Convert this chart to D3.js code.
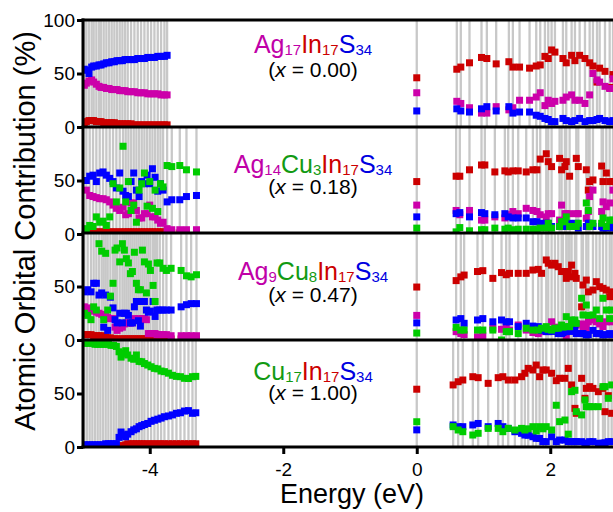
<!DOCTYPE html>
<html>
<head>
<meta charset="utf-8">
<script src="https://d3js.org/d3.v7.min.js"></script>
<style>
  body { margin: 0; background: #fff; }
  svg { font-family: "Liberation Sans", Arial, sans-serif; }
</style>
</head>
<body>
<svg id="chart" width="613" height="512"></svg>
<script>
// ---- Ag17In17S34 (x = 0.00) ----
var p1E  = [-4.98,-4.95,-4.91,-4.87,-4.84,-4.80,-4.76,-4.73,-4.69,-4.65,-4.61,-4.57,-4.53,-4.49,-4.45,-4.41,-4.37,-4.33,-4.28,-4.23,-4.18,-4.13,-4.08,-4.03,-3.98,-3.93,-3.88,-3.83,-3.78,-3.74,
            0,
            0.60,0.66,0.79,0.97,1.05,1.19,1.38,1.44,1.54,1.69,1.79,1.85,1.92,1.97,2.02,2.07,2.19,2.24,2.32,2.37,2.44,2.52,2.59,2.64,2.70,2.74,2.82,2.89,2.94];
var p1Ag = [39,41,43,44,42,40,38,37,37,36,36,35,35,35,34,34,34,33,33,33,32,32,32,31,31,31,31,30,30,30,
            32,
            24,22,18,13,13,19,16,18,25,25,28,32,20,25,22,24,25,28,30,25,25,22,30,50,44,42,38,36,45];
var p1In = [4,5,6,6,6,5,5,5,4,4,4,4,4,3,3,3,3,3,3,2,2,2,2,2,2,2,2,2,2,2,
            46,
            54,56,60,65,64,59,61,56,56,55,57,58,66,64,72,70,64,60,67,62,67,64,60,57,42,55,52,37,49];
var p1S  = [54,53,50,56,57,57,58,58,59,60,60,61,61,62,62,62,63,63,63,63,64,64,64,65,65,65,66,66,66,67,
            15,
            17,15,14,17,19,15,19,13,14,14,11,10,8,7,5,5,8,6,5,6,8,5,6,6,7,8,6,5,6];

// ---- Ag14Cu3In17S34 (x = 0.18) ----
var p2E  = [-4.95,-4.90,-4.85,-4.80,-4.75,-4.70,-4.65,-4.60,-4.55,-4.50,-4.45,-4.40,-4.36,-4.32,-4.28,-4.24,-4.20,-4.16,-4.12,-4.08,-4.04,-4.00,-3.96,-3.92,-3.88,-3.84,-3.80,-3.74,-3.67,-3.55,-3.45,-3.30,
            0,
            0.59,0.645,0.79,0.97,1.02,1.17,1.32,1.37,1.44,1.52,1.64,1.74,1.80,1.85,1.94,1.97,2.02,2.14,2.17,2.22,2.24,2.29,2.39,2.42,2.54,2.57,2.59,2.64,2.77,2.79,2.84,2.89,2.94];
var p2Ag = [41,36,35,34,33,33,32,30,27,24,22,25,18,19,29,29,22,15,15,19,19,27,16,16,13,10,11,5,4,4,4,4,
            27,
            22,18,22,13,13,16,15,18,21,19,24,22,21,18,16,19,19,13,27,19,19,19,19,19,14.7,21,35,41,21,30,25.5,29,41];
var p2Cu = [5,8,7,16,11,12,8,16,47,30,43,82,30,49,22,27,11,41,47,57,26,49,24,41,21,47,44,64,63,64,60,58,
            5.5,
            2,6,3,4,4,5.5,4.5,5.5,4,4.5,4.5,4.5,4,5.5,5.5,10,5.5,7,11.5,11.5,16,7,7,10,29,22,7,10,10,15,7,13,13];
var p2In = [2,2,2,2,2,2,2,2,2,2,2,2,2,2,2,2,2,2,2,2,2,2,2,2,2,2,2,1,1,1,1,1,
            49,
            54,54,60,64.5,64.5,58,59,58,59,59,58,60,60,70,75,67.6,63,70.7,60,63,67.6,54,70.7,63,60,41,49,50.5,63.5,49,57,49,49];
var p2S  = [50,54,55,49,57,58,55,52,49,43,57,40,36,35,49,57,41,35,49,47,55,47,61,53,40,47,41,30,32,32,35,36,
            16,
            19,20,16,20,19,18,19,16,15,15,15,11.5,11.5,10,10,10,7,7,10,7,10,10,10,5.5,7,10,10,7,7,5.5,5.5,7,5.5];

// ---- Ag9Cu8In17S34 (x = 0.47) ----
var p3E  = [-4.98,-4.93,-4.88,-4.84,-4.80,-4.76,-4.72,-4.69,-4.66,-4.63,-4.59,-4.55,-4.52,-4.49,-4.45,-4.41,-4.38,-4.35,-4.32,-4.29,-4.26,-4.23,-4.20,-4.17,-4.14,-4.11,-4.08,-4.05,-4.02,-3.99,-3.95,-3.92,-3.89,-3.85,-3.80,-3.75,-3.68,-3.53,-3.45,-3.38,-3.30,
            0,
            0.59,0.66,0.71,0.91,0.99,1.14,1.27,1.34,1.39,1.52,1.64,1.74,1.82,1.87,1.94,1.97,2.02,2.07,2.12,2.17,2.19,2.24,2.27,2.29,2.32,2.37,2.39,2.47,2.49,2.54,2.57,2.64,2.69,2.74,2.79,2.84,2.89,2.92];
var p3Ag = [31,30,28,27,26,25,24,23,22,21,20,20,12,9,11,12,15,16,16,16,16,20,19,20,19,20,20,19,6,6,6,6,5,5,5,5,4,4,4,4,4,
            23,
            7.8,6,5,3,3.7,11,10,12.5,9.3,14,9.3,7,6,7.8,9,8,17,12,10,8,7,3.7,9.3,12,14,15,14,15,12.5,11,17,18.7,17,15,12.5,17,18.7,17];
var p3Cu = [25,23,19,31,28,90,83,19,81,28,41,53,84,86,73,90,84,76,72,62,64,82,53,47,47,84,73,44,71,65,51,36,72,72,67,65,67,65,60,59,61,
            6.5,
            11.8,9.3,9.3,9.3,9.3,9.3,0,7.8,7.8,6,11,9.3,9.3,11,12.5,10,9.3,11,11,14,12,21.8,12.5,12.5,18.7,18.7,15.6,39,23.4,32.7,23,23.4,28,20,39,28,20,28];
var p3In = [5,5,5,4,4,4,4,3,3,2,2,1,1,1,1,1,1,1,1,1,1,1,1,1,1,1,1,1,1,1,1,1,1,1,1,1,1,1,1,1,1,
            49.5,
            55.5,59,60.7,64,64.8,57.6,63,61,62.3,62.3,62.3,65.4,66,62.3,74.8,71.7,70,71.7,68.5,64,64,57.6,64,59,70,62.3,57.6,31,51.4,56,45,46.7,54.5,49.8,48.3,46.7,40.5,45];
var p3S  = [45,47,45,53,53,42,44,12,42,9,40,30,19,16,25,16,25,25,23,16,16,31,36,18,13,36,36,28,26,27,36,22,28,28,28,28,28,31,33,34,34,
            16,
            18.7,20,15.6,18.7,20,17,18.7,17,17,12.5,15.6,13,12.5,9,8,7.8,8,9,6,6,7,7.8,9,8,11,9,6,6,6,4.7,5,9,6,6,4.7,5,6,5];

// ---- Cu17In17S34 (x = 1.00) ----
var p4E  = [-4.98,-4.94,-4.90,-4.86,-4.82,-4.78,-4.74,-4.70,-4.66,-4.62,-4.58,-4.54,-4.50,-4.46,-4.43,-4.40,-4.36,-4.33,-4.28,-4.24,-4.20,-4.16,-4.12,-4.08,-4.03,-3.98,-3.93,-3.88,-3.83,-3.78,-3.72,-3.66,-3.60,-3.54,-3.48,-3.42,-3.36,-3.31,
            0,
            0.545,0.62,0.69,0.84,0.92,1.07,1.22,1.29,1.37,1.47,1.57,1.62,1.67,1.74,1.79,1.84,1.89,1.94,2.02,2.09,2.14,2.22,2.27,2.32,2.37,2.39,2.47,2.52,2.54,2.59,2.64,2.72,2.79,2.82,2.87,2.92];
var p4Cu = [97,97,97,97,96,96,96,96,96,96,95,95,94,89,84,87.5,90,86,83,82,86,80,79.7,78,76.6,75,73.5,73,71,70.4,69,67,66,65.7,64.2,64,65.7,66,
            23.6,
            19,15.9,14.3,11.2,12.8,17.4,17.4,14.3,17.4,15.9,17.4,15.9,17,19,15,19,17,19,15.9,39,23.7,25.2,12,51.7,53,33,30,44,37.7,37.7,37.7,37.7,56.4,56.4,45.5,58];
var p4In = [0,0,0,0,0,0,0,0,0,0,0,1,1,1,1,1,2,3,3,3,3,3,3,3,3,3,3,3,3,3,3,3,3,3,3,3,3,3,
            54,
            58,61,62.6,65.7,64.8,59.5,64.8,65.7,62.6,62.6,65.7,68.9,73.5,72,76.6,65.7,72,72,68.9,62,64.2,64.2,73.5,58,36.1,31.5,64.2,45.5,54.8,56.4,54.8,51.7,54.8,33,48,31.5];
var p4S  = [2,2,2,2,2,2,2,2,3,3,3,3,3,9,14,11,9.6,12,14.3,16,17,19,20,21,22,24,25,26,27,28.3,29,30,31.5,32,33.6,34,31.5,32,
            16,
            20.6,19,19,20.6,22,19,22,19,17.4,14.3,12.8,11.2,11,9.6,8.1,8,5,5,9.6,5,6.5,6.5,5,5,5,5,5,3.5,3.5,5,5,3.5,3.5,4,5,5];

// panel titles: [element, subscript]
var formulas = [
  [["Ag","17"],["In","17"],["S","34"]],
  [["Ag","14"],["Cu","3"],["In","17"],["S","34"]],
  [["Ag","9"],["Cu","8"],["In","17"],["S","34"]],
  [["Cu","17"],["In","17"],["S","34"]]
];
var xLabels = ["0.00", "0.18", "0.47", "1.00"];
var energyTicks = [-4, -2, 0, 2];

var panels = [
  {E: p1E, Ag: p1Ag, In: p1In, S: p1S},
  {E: p2E, Ag: p2Ag, Cu: p2Cu, In: p2In, S: p2S},
  {E: p3E, Ag: p3Ag, Cu: p3Cu, In: p3In, S: p3S},
  {E: p4E, Cu: p4Cu, In: p4In, S: p4S}
];

var markColor = {Ag: "#cc00aa", Cu: "#00cc00", In: "#cc0000", S: "#0000ff"};
var textColor = {Ag: "#c000a8", Cu: "#129a12", In: "#cc0000", S: "#0000e0"};
var drawOrder = ["In", "Ag", "S", "Cu"];

var left = 83, tops = [20, 127, 233, 340], ph = 107, bottom = 447;
var titleY = [[53, 77], [173, 194], [280, 302], [380, 400]];

var svg = d3.select("#chart");
var x = d3.scaleLinear().domain([-5, 3]).range([left, 617]);

panels.forEach(function(p, i) {
  var y = d3.scaleLinear().domain([0, 100]).range([tops[i] + ph, tops[i]]);
  var g = svg.append("g");

  g.append("clipPath").attr("id", "clip" + i)
    .append("rect").attr("x", left).attr("y", tops[i]).attr("width", 540).attr("height", ph);
  var plot = g.append("g").attr("clip-path", "url(#clip" + i + ")");

  // gray line for every state
  plot.selectAll("line.state")
    .data(p.E)
    .join("line")
    .attr("class", "state")
    .attr("x1", function(d) { return x(d); })
    .attr("x2", function(d) { return x(d); })
    .attr("y1", tops[i]).attr("y2", tops[i] + ph)
    .attr("stroke", "#c8c8c8")
    .attr("stroke-width", 2.3);

  drawOrder.forEach(function(el) {
    if (!p[el]) return;
    var pts = p.E.map(function(e, j) { return [e, p[el][j]]; });
    plot.append("g").selectAll("rect")
      .data(pts)
      .join("rect")
      .attr("x", function(d) { return x(d[0]) - 3.5; })
      .attr("y", function(d) { return y(d[1]) - 3.5; })
      .attr("width", 7).attr("height", 7)
      .attr("fill", markColor[el]);
  });

  // y axis ticks for this panel
  g.append("g")
    .attr("transform", "translate(" + left + ",0)")
    .call(d3.axisLeft(y).tickValues(i === 0 ? [0, 50, 100] : [0, 50]).tickSize(6).tickPadding(2))
    .call(function(a) { a.select(".domain").remove(); })
    .call(function(a) {
      a.selectAll("line").attr("stroke-width", 3);
      a.selectAll("text").attr("font-size", 19).attr("font-family", "Liberation Sans, Arial, sans-serif");
    });

  // title with subscripts
  var t = g.append("text")
    .attr("x", 313).attr("y", titleY[i][0])
    .attr("text-anchor", "middle")
    .attr("font-size", 25);
  formulas[i].forEach(function(part, k) {
    t.append("tspan").attr("fill", textColor[part[0]]).attr("dy", k === 0 ? 0 : -2).text(part[0]);
    t.append("tspan").attr("fill", textColor[part[0]]).attr("font-size", 15).attr("dy", 2).text(part[1]);
  });

  var s = g.append("text")
    .attr("x", 313).attr("y", titleY[i][1])
    .attr("text-anchor", "middle")
    .attr("font-size", 21);
  s.append("tspan").text("(");
  s.append("tspan").attr("font-style", "italic").text("x");
  s.append("tspan").text(" = " + xLabels[i] + ")");
});

// panel frame lines
var hLines = tops.concat([bottom]);
svg.append("g").selectAll("line")
  .data(hLines)
  .join("line")
  .attr("x1", left - 1.5).attr("x2", 613)
  .attr("y1", function(d) { return d; }).attr("y2", function(d) { return d; })
  .attr("stroke", "#000").attr("stroke-width", 3);
svg.append("line")
  .attr("x1", left).attr("x2", left)
  .attr("y1", tops[0] - 1.5).attr("y2", bottom + 1.5)
  .attr("stroke", "#000").attr("stroke-width", 3);

// energy axis
svg.append("g")
  .attr("transform", "translate(0," + bottom + ")")
  .call(d3.axisBottom(x).tickValues(energyTicks).tickSize(7).tickPadding(9).tickFormat(function(d) { return String(d); }))
  .call(function(a) { a.select(".domain").remove(); })
  .call(function(a) {
    a.selectAll("line").attr("stroke-width", 3);
    a.selectAll("text").attr("font-size", 19).attr("font-family", "Liberation Sans, Arial, sans-serif");
  });

svg.append("text")
  .attr("x", 352).attr("y", 503)
  .attr("text-anchor", "middle")
  .attr("font-size", 27)
  .text("Energy (eV)");

svg.append("text")
  .attr("transform", "translate(35,231) rotate(-90)")
  .attr("text-anchor", "middle")
  .attr("font-size", 29)
  .text("Atomic Orbital Contribution (%)");
</script>
</body>
</html>
